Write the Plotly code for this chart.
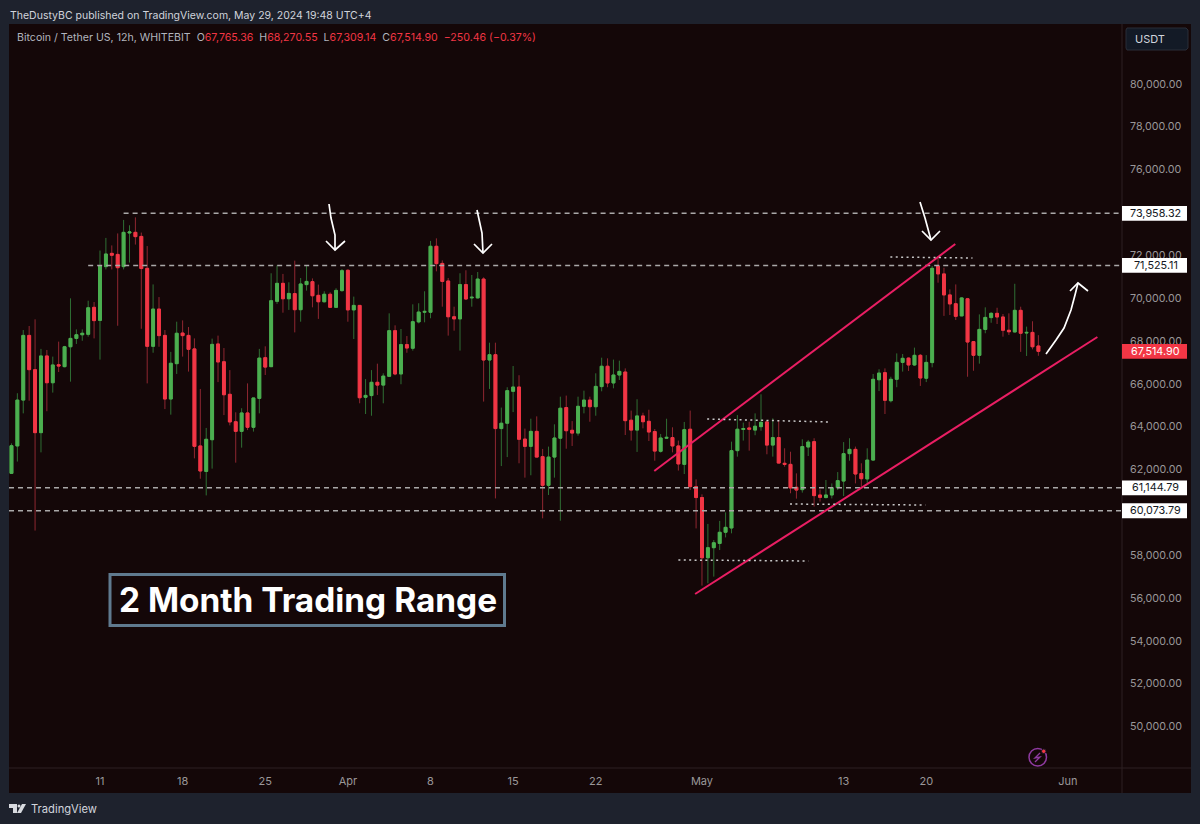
import pandas as pd
import plotly.graph_objects as go

FIRST_BAR = "2024-03-03 12:00"

opens = [
61820,63100,65240,68260,66660,63720,67300,66050,66890,66800,
67730,68120,68290,68310,69570,68960,71470,72090,72040,71470,
73040,73070,72880,71390,67750,69490,68260,65290,66940,68370,
68260,67630,63100,61910,63390,67860,67030,65510,64230,63780,
64640,63970,65320,67220,66800,69850,70690,69970,70210,69460,
70630,70770,70130,69830,70180,69570,70350,71300,69450,69660,
65370,65450,66070,65940,66350,68480,66460,67830,67660,68890,
69340,69340,72420,71620,70800,69130,69030,70630,70010,70010,
70890,67110,67360,63910,64160,65650,65850,63420,63080,63780,
62600,61260,62580,63460,64890,63830,63700,64950,65240,64930,
65870,66820,66040,66410,66550,64300,63840,64500,64250,63770,
62850,63460,63490,63100,62240,63880,61200,60690,57880,58350,
58550,59070,59270,62880,63870,63940,63840,64000,64220,63140,
63490,62290,62240,61170,61060,63050,63300,60810,60690,60810,
61150,61460,62740,62940,61810,61560,62440,66190,66520,65210,
66210,67000,67200,66880,67330,66260,66990,71500,71130,70150,
69740,69170,69970,67970,67330,68540,69090,69290,69120,68500,
68420,69430,68370,68400,67765.36]
highs = [
63220,65560,68510,68700,69010,67630,67580,67270,67970,67770,
69990,68540,68540,69880,69820,72220,72810,72460,73020,73650,
73400,73770,73060,72430,70640,70050,68510,67490,68900,68960,
68650,68120,65760,63940,68110,68250,67670,66640,64670,64860,
66020,65350,67630,67750,71160,71530,71130,70740,71750,70940,
71530,70920,70630,70320,70270,70460,71360,71340,70070,69680,
66220,66640,66940,66490,69290,68730,68560,68230,69710,69760,
70320,72670,72790,71760,70940,69600,71160,71300,71080,71220,
70970,67920,67920,64890,65840,66830,66400,63910,64370,64480,
62960,63070,64110,65400,65450,64260,65400,65680,65400,66490,
67220,67190,67130,67080,66720,64750,65280,64650,64790,63890,
63660,64370,63970,63350,64220,64750,61540,60840,59460,58710,
59600,60000,63300,64540,64190,64230,64620,65510,64310,64390,
64310,62990,62830,61820,63410,63380,63460,61070,61510,61350,
61880,63280,63460,63070,62290,62990,66460,66680,66720,66330,
67420,67390,67230,67690,67390,67340,71500,71900,71420,70410,
70640,70040,70010,67980,69240,69570,69340,69550,69260,69290,
70670,69600,68670,68920,68270.55]
lows = [
61820,62370,64620,65210,59150,62800,64720,65590,66550,66770,
66100,67860,68010,68200,68120,67130,71340,71340,68710,71340,
71660,72500,68570,66020,67450,67730,64820,64560,66460,67270,
66570,62520,61570,60790,62040,66080,64540,64060,62320,63020,
63840,63770,64620,66410,66780,69730,69320,69450,68400,68900,
70350,69570,69030,69800,69540,69540,70300,68900,68090,65090,
64590,64510,65480,65090,66330,66400,65980,67450,67550,68820,
68870,69060,71250,69600,68250,68480,67550,69910,69600,69990,
65170,65760,60650,62160,62580,64680,62290,61620,61730,62570,
59720,60810,61620,59610,62970,63100,63580,64620,64230,64510,
65650,65840,65790,66180,63610,63350,62820,63920,63330,62410,
62790,63440,62800,61950,61790,61040,59250,56580,56690,57000,
58240,58830,59020,62600,63350,62880,63600,63810,62710,62600,
62290,62130,60890,60640,60920,62630,60270,60500,60650,60650,
61040,60760,62410,61350,61200,61350,62420,65660,64590,65130,
65840,66570,66600,66830,65900,66080,66770,70720,69170,69210,
68980,69160,66330,66610,66940,68360,68850,68790,68200,68280,
68410,67490,67300,67610,67309.14]
closes = [
63110,65240,68260,66660,63720,67300,66050,66880,66830,67730,
68120,68290,68360,69550,68950,71520,72060,72000,71420,73070,
73090,72870,71380,67750,69490,68250,65290,66960,68360,68250,
67610,63080,61930,63410,67840,67020,65490,64220,63780,64640,
63970,65340,67200,66780,69880,70690,69970,70220,69460,70660,
70780,70110,69830,70180,69570,70360,71280,69450,69660,65350,
65460,66070,65940,66360,68480,66460,67830,67670,68900,69350,
69380,72420,71610,70780,69130,69030,70630,69960,70040,70890,
67110,67360,63910,64160,65680,65850,63410,63080,63780,62580,
61260,62580,63470,64860,63810,63700,64950,65240,64930,65880,
66820,66040,66410,66580,64280,63840,64500,64230,63750,62860,
63470,63500,63100,62260,63860,61200,60690,57880,58350,58580,
59070,59300,62880,63880,63910,63880,64020,64200,63140,63490,
62300,62240,61140,61040,63070,63280,60780,60700,60810,61150,
61480,62740,62940,61790,61570,62440,66210,66500,65230,66210,
67000,67190,66880,67330,66270,67000,71390,71130,70150,69730,
69150,70010,67950,67330,68540,69100,69290,69120,68500,68430,
69430,68360,68400,67730,67514.90]

date_ticks = ["2024-03-11","2024-03-18","2024-03-25","2024-04-01","2024-04-08","2024-04-15",
              "2024-04-22","2024-05-01","2024-05-13","2024-05-20","2024-06-01"]
date_labels = ["11","18","25","Apr","8","15","22","May","13","20","Jun"]
price_ticks = [50000,52000,54000,56000,58000,62000,64000,66000,68000,70000,72000,76000,78000,80000]

levels = [73958.32, 71525.11, 61144.79, 60073.79]
level_starts = ["2024-03-13 00:00", "2024-03-10 00:00", "2024-03-03 07:00", "2024-03-03 07:00"]
last_price = 67514.90

channel_dates = [["2024-04-26 23:00","2024-05-22 11:00"], ["2024-04-30 10:00","2024-06-03 12:00"]]
channel_prices = [[61930,72526], [56188,68185]]
dot_dates = [["2024-04-29 00:00","2024-05-10 00:00"], ["2024-05-01 10:30","2024-05-11 23:00"],
             ["2024-05-08 11:00","2024-05-19 22:00"], ["2024-05-16 23:00","2024-05-23 22:00"]]
dot_prices = [[57775,57730], [64357,64217], [60389,60343], [71919,71873]]

W, H = 1200, 824
L, R, T, B = 9, 1122, 24, 768
px = lambda x: x / W
py = lambda y: 1 - y / H

BG = "#1e222d"
PANE = "#140708"
AXIS = "#2c2022"
RED = "#f23645"
GREEN = "#4caf50"
RED_W = "#8f2731"
GREEN_W = "#2f6f34"
FONT = "Inter"

dates = pd.date_range(FIRST_BAR, periods=len(opens), freq="12h")
body_top = [max(o, c) for o, c in zip(opens, closes)]
body_bot = [min(o, c) for o, c in zip(opens, closes)]

fig = go.Figure()
# full range (wicks) in the dimmer shade
fig.add_trace(go.Candlestick(
    x=dates, open=opens, high=highs, low=lows, close=closes,
    increasing=dict(line=dict(color=GREEN_W, width=1), fillcolor=GREEN_W),
    decreasing=dict(line=dict(color=RED_W, width=1), fillcolor=RED_W),
    whiskerwidth=0, hoverinfo="skip", showlegend=False))
# open-close bodies in the bright shade
fig.add_trace(go.Candlestick(
    x=dates, open=opens, high=body_top, low=body_bot, close=closes,
    increasing=dict(line=dict(color=GREEN, width=1), fillcolor=GREEN),
    decreasing=dict(line=dict(color=RED, width=1), fillcolor=RED),
    whiskerwidth=0, hoverinfo="skip", showlegend=False))

shapes = []
shapes.append(dict(type="rect", xref="paper", yref="paper", x0=px(L), x1=px(1191), y0=py(793), y1=py(T),
                   fillcolor=PANE, line_width=0, layer="below"))
shapes.append(dict(type="line", xref="paper", yref="paper", x0=px(R), x1=px(R), y0=py(793), y1=py(T),
                   line=dict(color=AXIS, width=1)))
shapes.append(dict(type="line", xref="paper", yref="paper", x0=px(L), x1=px(1191), y0=py(B), y1=py(B),
                   line=dict(color=AXIS, width=1)))
for lv, st in zip(levels, level_starts):
    shapes.append(dict(type="line", xref="x", yref="y", x0=st, x1="2024-06-05 14:00", y0=lv, y1=lv,
                       line=dict(color="#aaa8a8", width=1.5, dash="5px 4px")))
for d, p in zip(channel_dates, channel_prices):
    shapes.append(dict(type="line", xref="x", yref="y", x0=d[0], x1=d[1], y0=p[0], y1=p[1],
                       line=dict(color="#e91e63", width=2)))
for d, p in zip(dot_dates, dot_prices):
    shapes.append(dict(type="line", xref="x", yref="y", x0=d[0], x1=d[1], y0=p[0], y1=p[1],
                       line=dict(color="#c8c8c8", width=1.5, dash="2px 3.4px")))

def pixel_path(points):
    return "M " + " L ".join(f"{px(x):.5f},{py(y):.5f}" for x, y in points)

arrows = [
    [(329,204),(331,218),(335,235),(335,250)],
    [(326,241),(335,250),(345,241)],
    [(477,210),(482,233),(483,253)],
    [(474,244),(483,253),(492,244)],
    [(920,202),(925,218),(931,240)],
    [(922,231),(931,240),(940,231)],
    [(1046,354),(1056,340),(1064,328),(1071,310),(1075,295),(1078,283)],
    [(1070,291),(1078,283),(1088,291)],
]
for a in arrows:
    shapes.append(dict(type="path", xref="paper", yref="paper", path=pixel_path(a),
                       line=dict(color="#ffffff", width=1.7)))

shapes.append(dict(type="rect", xref="paper", yref="paper", x0=px(110), x1=px(504.5), y0=py(625.5), y1=py(574.5),
                   line=dict(color="#5f7a8f", width=3), fillcolor=PANE))
shapes.append(dict(type="path", xref="paper", yref="paper", fillcolor="#131a26", line=dict(color="#2a2e39", width=1),
                   path=pixel_path([(1127,28),(1186,28),(1188,30),(1188,48),(1186,50),(1127,50),(1126,48),(1126,30)]) + " Z"))
tag_vals = levels + [last_price]
for v_, c in zip(tag_vals, ["#ffffff"] * 4 + [RED]):
    shapes.append(dict(type="rect", xref="paper", yref="y", x0=px(R), x1=px(1187), y0=v_ - 345, y1=v_ + 345,
                       fillcolor=c, line_width=0, layer="above"))
# TradingView logo
shapes.append(dict(type="path", xref="paper", yref="paper", fillcolor="#d8dadf", line_width=0,
                   path=pixel_path([(9,804),(17,804),(17,813),(13,813),(13,808),(9,808)]) + " Z"))
shapes.append(dict(type="circle", xref="paper", yref="paper", x0=px(17.5), x1=px(20.5), y0=py(807.5), y1=py(804.5),
                   fillcolor="#d8dadf", line_width=0))
shapes.append(dict(type="path", xref="paper", yref="paper", fillcolor="#d8dadf", line_width=0,
                   path=pixel_path([(22,804),(26,804),(21,813),(17,813)]) + " Z"))
# lightning badge
shapes.append(dict(type="circle", xref="paper", yref="paper", x0=px(1029), x1=px(1046.5), y0=py(766), y1=py(748.5),
                   line=dict(color="#8e3aa0", width=1.5)))
shapes.append(dict(type="path", xref="paper", yref="paper", line=dict(color="#8e3aa0", width=1.3),
                   path=pixel_path([(1040,753),(1035,758),(1040,757),(1035,762)])))
shapes.append(dict(type="circle", xref="paper", yref="paper", x0=px(1041.5), x1=px(1046), y0=py(753.5), y1=py(749),
                   fillcolor=RED, line=dict(color="#131a26", width=1)))

ann = []
def text(x, y, s, size, color, anchor="left"):
    ann.append(dict(xref="paper", yref="paper", x=px(x), y=py(y), text=s, showarrow=False, xanchor=anchor, yanchor="middle",
                    font=dict(size=size, color=color, family=FONT), borderpad=0))

text(9, 15, "TheDustyBC published on TradingView.com, May 29, 2024 19:48 UTC+4", 10.5, "#d1d4dc")
v = lambda s: f'<span style="color:{RED}">{s}</span>'
gap = "\u00a0\u00a0"
text(15.5, 38, "Bitcoin / Tether US, 12h, WHITEBIT" + gap + "O" + v("67,765.36") + gap + "H" + v("68,270.55") + gap + "L" + v("67,309.14")
     + gap + "C" + v("67,514.90") + gap + v("−250.46 (−0.37%)"), 10.6, "#b2b5be")
text(1134, 39, "USDT", 11, "#d1d4dc")
text(307.5, 600, "<b>2 Month Trading Range</b>", 33.4, "#ffffff", anchor="center")
text(30, 809, "TradingView", 11.2, "#d1d4dc")
for lv, tc in zip(tag_vals, ["#131722"] * 4 + ["#ffffff"]):
    ann.append(dict(xref="paper", yref="y", x=px(1155.5), y=lv, text=f"{lv:,.2f}", showarrow=False,
                    xanchor="center", yanchor="middle", font=dict(size=10.8, color=tc, family=FONT)))

fig.update_layout(
    width=W, height=H, margin=dict(l=0, r=0, t=0, b=0), autosize=False,
    paper_bgcolor=BG, plot_bgcolor=PANE, showlegend=False,
    shapes=shapes, annotations=ann,
    font=dict(family=FONT, color="#9a9799", size=11),
    xaxis=dict(domain=[px(L), px(R)], type="date", range=["2024-03-03 07:00", "2024-06-05 14:00"],
               rangeslider=dict(visible=False), showgrid=False, zeroline=False, showline=False,
               tickmode="array", tickvals=date_ticks, ticktext=date_labels, ticks="",
               ticklabelstandoff=5, tickfont=dict(size=11, color="#9a9799", family=FONT), anchor="y"),
    yaxis=dict(domain=[py(B), py(T)], side="right", range=[48066, 82796], showgrid=False, zeroline=False,
               showline=False, tickmode="array", tickvals=price_ticks, ticks="", tickformat=",.2f",
               ticklabelstandoff=7, tickfont=dict(size=10.7, color="#9a9799", family=FONT), anchor="x"),
)

fig.write_html("out.html", config=dict(displayModeBar=False),
               post_script="document.body.style.margin='0';document.body.style.overflow='hidden';document.body.style.background='#1e222d';")
